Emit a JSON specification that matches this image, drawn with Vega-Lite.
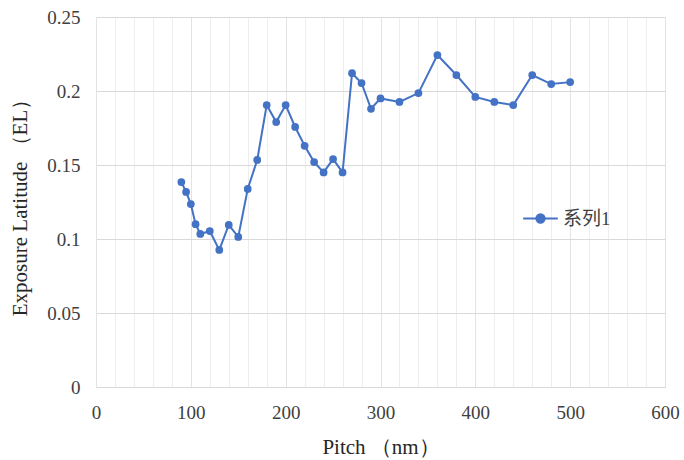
{
  "$schema": "https://vega.github.io/schema/vega-lite/v6.json",
  "width": 569,
  "height": 370,
  "autosize": {"type": "none"},
  "padding": {"left": 96, "top": 17, "right": 19, "bottom": 73},
  "background": "white",
  "config": {
    "view": {"stroke": null},
    "font": "Times New Roman",
    "axis": {"labelFont": "Times New Roman", "titleFont": "Times New Roman"}
  },
  "data": {"values": [
    {"pitch": 90, "el": 0.1385},
    {"pitch": 95, "el": 0.1318},
    {"pitch": 100, "el": 0.1236},
    {"pitch": 105, "el": 0.110},
    {"pitch": 110, "el": 0.1034},
    {"pitch": 120, "el": 0.1054},
    {"pitch": 130, "el": 0.0926},
    {"pitch": 140, "el": 0.1095},
    {"pitch": 150, "el": 0.1014},
    {"pitch": 160, "el": 0.1338},
    {"pitch": 170, "el": 0.1534},
    {"pitch": 180, "el": 0.1905},
    {"pitch": 190, "el": 0.179},
    {"pitch": 200, "el": 0.1905},
    {"pitch": 210, "el": 0.1757},
    {"pitch": 220, "el": 0.163},
    {"pitch": 230, "el": 0.152},
    {"pitch": 240, "el": 0.145},
    {"pitch": 250, "el": 0.154},
    {"pitch": 260, "el": 0.145},
    {"pitch": 270, "el": 0.212},
    {"pitch": 280, "el": 0.2054},
    {"pitch": 290, "el": 0.188},
    {"pitch": 300, "el": 0.195},
    {"pitch": 320, "el": 0.1926},
    {"pitch": 340, "el": 0.1986},
    {"pitch": 360, "el": 0.2243},
    {"pitch": 380, "el": 0.2108},
    {"pitch": 400, "el": 0.196},
    {"pitch": 420, "el": 0.1926},
    {"pitch": 440, "el": 0.1905},
    {"pitch": 460, "el": 0.2108},
    {"pitch": 480, "el": 0.2047},
    {"pitch": 500, "el": 0.206}
  ]},
  "mark": {"type": "line", "strokeWidth": 2, "color": "#4472C4", "point": {"size": 60, "filled": true, "opacity": 1, "color": "#4472C4"}},
  "encoding": {
    "x": {
      "field": "pitch", "type": "quantitative",
      "scale": {"domain": [0, 600], "nice": false},
      "axis": {
        "values": [0,20,40,60,80,100,120,140,160,180,200,220,240,260,280,300,320,340,360,380,400,420,440,460,480,500,520,540,560,580,600],
        "labelExpr": "datum.value % 100 === 0 ? datum.label : ''",
        "labelOverlap": false,
        "labelFlush": false,
        "labelFontSize": 19,
        "labelColor": "#404040",
        "labelPadding": 16,
        "labelFont": "Times New Roman",
        "ticks": false,
        "domainColor": "#d9d9d9",
        "grid": true,
        "gridColor": {"condition": {"test": "datum.value % 100 === 0", "value": "#e3e3e3"}, "value": "#eeeeee"},
        "title": "Pitch （nm）",
        "titleFont": "Times New Roman",
        "titleFontSize": 21,
        "titleFontWeight": "normal",
        "titleColor": "#262626",
        "titlePadding": 14
      }
    },
    "y": {
      "field": "el", "type": "quantitative",
      "scale": {"domain": [0, 0.25], "nice": false},
      "axis": {
        "values": [0, 0.05, 0.1, 0.15, 0.2, 0.25],
        "format": "~g",
        "labelFontSize": 19,
        "labelColor": "#404040",
        "labelPadding": 16,
        "labelFont": "Times New Roman",
        "ticks": false,
        "domain": true,
        "domainColor": "#e3e3e3",
        "grid": true,
        "gridColor": "#d9d9d9",
        "title": "Exposure Latitude （EL）",
        "titleFont": "Times New Roman",
        "titleFontSize": 21,
        "titleFontWeight": "normal",
        "titleColor": "#262626",
        "titlePadding": 16
      }
    },
    "color": {
      "datum": "系列1",
      "scale": {"range": ["#4472C4"]},
      "legend": {
        "title": null,
        "orient": "none",
        "legendX": 426,
        "legendY": 183,
        "symbolType": "M-1,0H1M-0.24,0a0.24,0.24 0 1,0 0.48,0a0.24,0.24 0 1,0 -0.48,0",
        "symbolSize": 1200,
        "symbolStrokeWidth": 2,
        "symbolFillColor": "#4472C4",
        "symbolStrokeColor": "#4472C4",
        "labelFont": "Times New Roman, Noto Sans CJK SC",
        "labelFontSize": 19,
        "labelColor": "#404040",
        "labelOffset": 4
      }
    }
  }
}
